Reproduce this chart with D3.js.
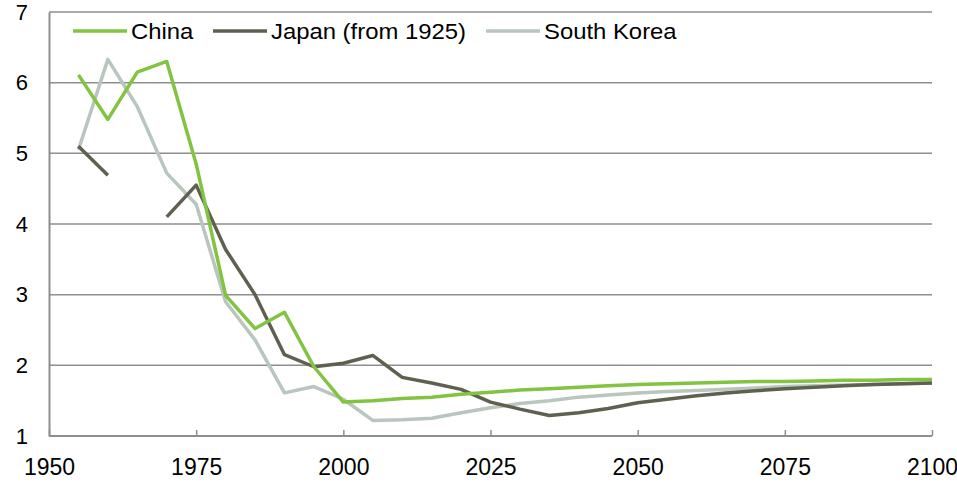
<!DOCTYPE html>
<html>
<head>
<meta charset="utf-8">
<script src="https://cdn.jsdelivr.net/npm/d3@7"></script>
<style>
  html, body { margin: 0; padding: 0; background: #fff; }
  svg { display: block; font-family: "Liberation Sans", Arial, sans-serif; }
</style>
</head>
<body>
<svg id="chart" width="957" height="482"></svg>
<script>
// Total fertility rate, 5-year steps, 1955–2100
const years = d3.range(1955, 2101, 5);

const china = [6.11, 5.48, 6.15, 6.30, 4.85, 2.99, 2.52, 2.75, 1.98, 1.48,
  1.50, 1.53, 1.55, 1.59, 1.62, 1.65, 1.67, 1.69, 1.71, 1.73,
  1.74, 1.75, 1.76, 1.77, 1.77, 1.78, 1.79, 1.79, 1.80, 1.80];

const japan = [5.10, 4.69, null, 4.10, 4.55, 3.64, 3.00, 2.15, 1.98, 2.03,
  2.14, 1.83, 1.75, 1.66, 1.48, 1.38, 1.29, 1.33, 1.39, 1.47,
  1.52, 1.57, 1.61, 1.64, 1.67, 1.69, 1.71, 1.73, 1.74, 1.75];

const southKorea = [5.05, 6.33, 5.66, 4.72, 4.28, 2.90, 2.36, 1.61, 1.70, 1.52,
  1.22, 1.23, 1.25, 1.33, 1.40, 1.46, 1.50, 1.55, 1.58, 1.61,
  1.63, 1.645, 1.66, 1.68, 1.70, 1.71, 1.72, 1.73, 1.74, 1.75];

const seriesNames = ["China", "Japan (from 1925)", "South Korea"];
const seriesColors = ["#82c341", "#5f604f", "#b8c6be"];
const seriesValues = [china, japan, southKorea];

const xTicks = [1950, 1975, 2000, 2025, 2050, 2075, 2100];
const yTicks = [1, 2, 3, 4, 5, 6, 7];

const svg = d3.select("#chart");
const margin = { left: 49, right: 25, top: 12, bottom: 46 };
const W = 957, H = 482;

const x = d3.scaleLinear().domain([1950, 2100]).range([margin.left, W - margin.right]);
const y = d3.scaleLinear().domain([1, 7]).range([H - margin.bottom, margin.top]);

const gridColor = "#8e8e8e";
const font = "Liberation Sans, Arial, sans-serif";

// horizontal gridlines
svg.append("g")
  .selectAll("line")
  .data(yTicks.filter(d => d > 1))
  .join("line")
  .attr("x1", x(1950)).attr("x2", x(2100))
  .attr("y1", d => y(d)).attr("y2", d => y(d))
  .attr("stroke", gridColor).attr("stroke-width", 1.5);

// y axis
const yAxis = svg.append("g")
  .attr("transform", `translate(${x(1950)},0)`)
  .call(d3.axisLeft(y).tickValues(yTicks).tickSize(0).tickPadding(21).tickFormat(d3.format("d")));
yAxis.select(".domain").attr("stroke", gridColor).attr("stroke-width", 2);
yAxis.selectAll("text").attr("font-size", 22).attr("fill", "#000").attr("font-family", font);

// x axis, ticks pointing into the plot
const xAxis = svg.append("g")
  .attr("transform", `translate(0,${y(1)})`)
  .call(d3.axisBottom(x).tickValues(xTicks).tickSize(-6).tickPadding(23).tickFormat(d3.format("d")));
xAxis.select(".domain").attr("stroke", gridColor).attr("stroke-width", 2)
  .attr("d", `M${x(1950)},0H${x(2100)}`);
xAxis.selectAll(".tick line").attr("stroke", gridColor).attr("stroke-width", 1.5);
xAxis.selectAll("text").attr("font-size", 23).attr("fill", "#000").attr("font-family", font);

// series lines (Korea beneath, China on top)
const line = d3.line()
  .defined(d => d.v != null)
  .x(d => x(d.year))
  .y(d => y(d.v));

[2, 1, 0].forEach(i => {
  const pts = years.map((yr, k) => ({ year: yr, v: seriesValues[i][k] }));
  svg.append("path")
    .datum(pts)
    .attr("fill", "none")
    .attr("stroke", seriesColors[i])
    .attr("stroke-width", 3.5)
    .attr("stroke-linejoin", "round")
    .attr("d", line);
});

// legend
const legendX = [73, 213, 486];
const legend = svg.append("g");
seriesNames.forEach((name, i) => {
  legend.append("line")
    .attr("x1", legendX[i]).attr("x2", legendX[i] + 54)
    .attr("y1", 31).attr("y2", 31)
    .attr("stroke", seriesColors[i]).attr("stroke-width", 3.5);
  legend.append("text")
    .attr("transform", `translate(${legendX[i] + 58},39) scale(1.085,1)`)
    .attr("font-size", 22).attr("fill", "#000")
    .text(name);
});
</script>
</body>
</html>
